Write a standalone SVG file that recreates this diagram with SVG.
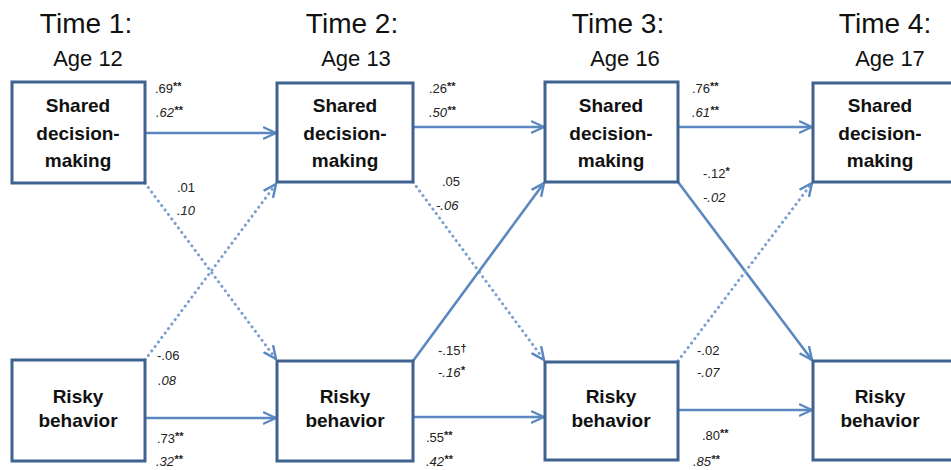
<svg xmlns="http://www.w3.org/2000/svg" width="951" height="470" viewBox="0 0 951 470">
<defs>
<marker id="ah" viewBox="0 0 14 14" refX="13" refY="7" markerWidth="14" markerHeight="14" markerUnits="userSpaceOnUse" orient="auto">
<path d="M1,1.5 L13,7 L1,12.5" fill="none" stroke="#5b87c0" stroke-width="2.4" stroke-linecap="round" stroke-linejoin="miter"/>
</marker>
<style>
.box{fill:#fff;stroke:#3f6290;stroke-width:3}
.lbl{font-family:"Liberation Sans",Arial,sans-serif;font-weight:bold;font-size:19px;fill:#111;text-anchor:middle}
.hd{font-family:"Liberation Sans",Arial,sans-serif;font-size:28px;fill:#111;text-anchor:middle}
.age{font-family:"Liberation Sans",Arial,sans-serif;font-size:22px;fill:#111;text-anchor:middle}
.c{font-family:"Liberation Sans",Arial,sans-serif;font-size:13px;fill:#222}
.i{font-style:italic}
.s{font-size:11px;font-weight:bold}
.solid{fill:none;stroke:#5b87c0;stroke-width:2.6;marker-end:url(#ah)}
.dot{fill:none;stroke:#7aa0cf;stroke-width:3;stroke-dasharray:0.1 5.5;stroke-linecap:round;marker-end:url(#ah)}
</style>
</defs>
<g id="headers">
<text class="hd" x="86" y="33">Time 1:</text>
<text class="age" x="88" y="66">Age 12</text>
<text class="hd" x="352" y="33">Time 2:</text>
<text class="age" x="356" y="66">Age 13</text>
<text class="hd" x="618" y="33">Time 3:</text>
<text class="age" x="625" y="66">Age 16</text>
<text class="hd" x="885" y="33">Time 4:</text>
<text class="age" x="890" y="66">Age 17</text>
</g>
<g id="connectors">
<line class="solid" x1="145" y1="133" x2="276" y2="133"/>
<line class="solid" x1="413" y1="127" x2="544" y2="127"/>
<line class="solid" x1="678" y1="127" x2="812" y2="127"/>
<line class="solid" x1="145" y1="418" x2="276" y2="418"/>
<line class="solid" x1="413" y1="417" x2="544" y2="417"/>
<line class="solid" x1="678" y1="410" x2="812" y2="410"/>
<line class="dot" x1="145" y1="183" x2="276" y2="359"/>
<line class="dot" x1="145" y1="360" x2="276" y2="184"/>
<line class="dot" x1="413" y1="182" x2="544" y2="360"/>
<line class="solid" x1="413" y1="361" x2="544" y2="183"/>
<line class="solid" x1="678" y1="182" x2="812" y2="360"/>
<line class="dot" x1="678" y1="361" x2="812" y2="183"/>
</g>
<g id="sdm1"><rect class="box" x="12" y="82" width="133" height="101"/><text class="lbl" x="78" y="112">Shared</text><text class="lbl" x="78" y="140">decision-</text><text class="lbl" x="78" y="167">making</text></g>
<g id="sdm2"><rect class="box" x="277" y="83" width="136" height="99"/><text class="lbl" x="345" y="112">Shared</text><text class="lbl" x="345" y="140">decision-</text><text class="lbl" x="345" y="167">making</text></g>
<g id="sdm3"><rect class="box" x="545" y="82" width="133" height="100"/><text class="lbl" x="611" y="112">Shared</text><text class="lbl" x="611" y="140">decision-</text><text class="lbl" x="611" y="167">making</text></g>
<g id="sdm4"><rect class="box" x="813" y="83" width="150" height="99"/><text class="lbl" x="880" y="112">Shared</text><text class="lbl" x="880" y="140">decision-</text><text class="lbl" x="880" y="167">making</text></g>
<g id="risk1"><rect class="box" x="12" y="360" width="133" height="101"/><text class="lbl" x="78" y="403">Risky</text><text class="lbl" x="78" y="427">behavior</text></g>
<g id="risk2"><rect class="box" x="277" y="361" width="136" height="100"/><text class="lbl" x="345" y="403">Risky</text><text class="lbl" x="345" y="427">behavior</text></g>
<g id="risk3"><rect class="box" x="545" y="362" width="133" height="98"/><text class="lbl" x="611" y="403">Risky</text><text class="lbl" x="611" y="427">behavior</text></g>
<g id="risk4"><rect class="box" x="813" y="361" width="150" height="99"/><text class="lbl" x="880" y="403">Risky</text><text class="lbl" x="880" y="427">behavior</text></g>
<g id="coefficients">
<text class="c" x="155" y="93">.69<tspan class="s" dy="-3">**</tspan></text>
<text class="c i" x="156" y="117">.62<tspan class="s" dy="-3">**</tspan></text>
<text class="c" x="177" y="192">.01</text>
<text class="c i" x="177" y="215">.10</text>
<text class="c" x="157" y="360">-.06</text>
<text class="c i" x="158" y="385">.08</text>
<text class="c" x="157" y="443">.73<tspan class="s" dy="-3">**</tspan></text>
<text class="c i" x="156" y="466">.32<tspan class="s" dy="-3">**</tspan></text>
<text class="c" x="429" y="93">.26<tspan class="s" dy="-3">**</tspan></text>
<text class="c i" x="429" y="117">.50<tspan class="s" dy="-3">**</tspan></text>
<text class="c" x="442" y="186">.05</text>
<text class="c i" x="436" y="210">-.06</text>
<text class="c" x="438" y="355">-.15<tspan class="s" dy="-3">†</tspan></text>
<text class="c i" x="438" y="377">-.16<tspan class="s" dy="-3">*</tspan></text>
<text class="c" x="426" y="442">.55<tspan class="s" dy="-3">**</tspan></text>
<text class="c i" x="426" y="466">.42<tspan class="s" dy="-3">**</tspan></text>
<text class="c" x="692" y="93">.76<tspan class="s" dy="-3">**</tspan></text>
<text class="c i" x="692" y="117">.61<tspan class="s" dy="-3">**</tspan></text>
<text class="c" x="703" y="178">-.12<tspan class="s" dy="-3">*</tspan></text>
<text class="c i" x="703" y="202">-.02</text>
<text class="c" x="697" y="355">-.02</text>
<text class="c i" x="697" y="377">-.07</text>
<text class="c" x="702" y="440">.80<tspan class="s" dy="-3">**</tspan></text>
<text class="c i" x="693" y="466">.85<tspan class="s" dy="-3">**</tspan></text>
</g>
</svg>
